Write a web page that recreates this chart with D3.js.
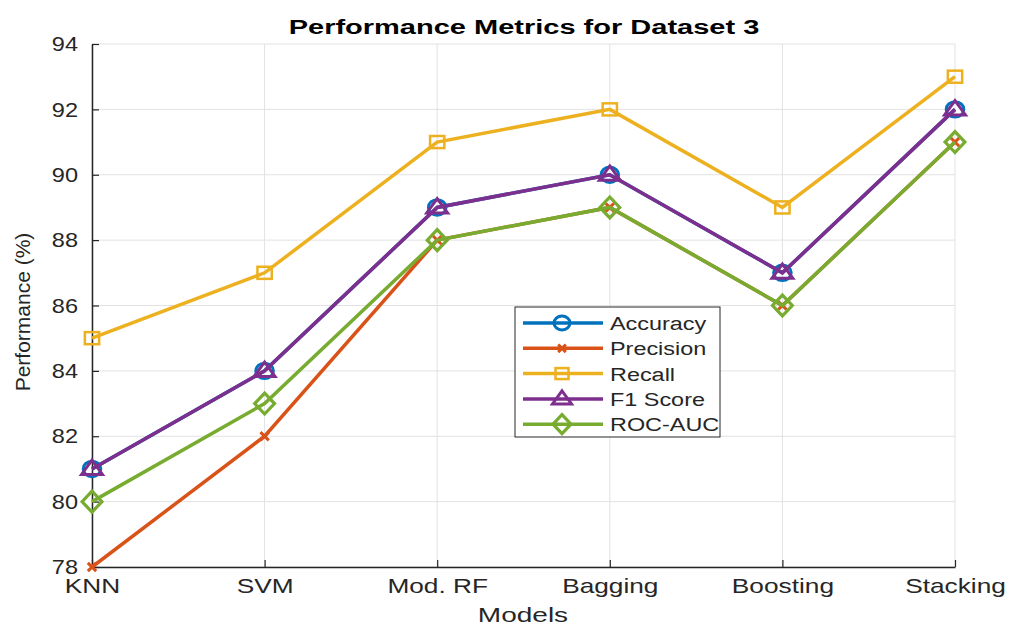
<!DOCTYPE html>
<html>
<head>
<meta charset="utf-8">
<script src="https://cdn.jsdelivr.net/npm/d3@7"></script>
<style>
body { margin: 0; background: #fff; }
text { font-family: "Liberation Sans", Arial, sans-serif; }
</style>
</head>
<body>
<div id="chart"></div>
<script>
var width = 1009, height = 627;

var models = ["KNN", "SVM", "Mod. RF", "Bagging", "Boosting", "Stacking"];
var accuracy  = [81, 84, 89, 90, 87, 92];
var precision = [78, 82, 88, 89, 86, 91];
var recall    = [85, 87, 91, 92, 89, 93];
var f1score   = [81, 84, 89, 90, 87, 92];
var rocauc    = [80, 83, 88, 89, 86, 91];
var yTicks = [78, 80, 82, 84, 86, 88, 90, 92, 94];

var series = [
  {name: "Accuracy",  values: accuracy,  color: "#0072BD", marker: "circle"},
  {name: "Precision", values: precision, color: "#D95319", marker: "cross"},
  {name: "Recall",    values: recall,    color: "#EDB120", marker: "square"},
  {name: "F1 Score",  values: f1score,   color: "#7E2F8E", marker: "triangle"},
  {name: "ROC-AUC",   values: rocauc,    color: "#77AC30", marker: "diamond"}
];

var margin = {left: 92, right: 54, top: 44, bottom: 60};

var svg = d3.select("#chart").append("svg").attr("width", width).attr("height", height);

var x = d3.scalePoint().domain(models).range([margin.left, width - margin.right]);
var y = d3.scaleLinear().domain([78, 94]).range([height - margin.bottom, margin.top]);

// the reference picture is stretched sideways, so widen text to match
function stretch(sel, f) {
  sel.each(function() {
    var w = this.getComputedTextLength();
    d3.select(this).attr("textLength", w * f).attr("lengthAdjust", "spacingAndGlyphs");
  });
}

// grid
var grid = svg.append("g").attr("class", "grid");
grid.selectAll("line.h").data(yTicks).enter().append("line")
  .attr("x1", margin.left).attr("x2", width - margin.right)
  .attr("y1", function(d) { return y(d); }).attr("y2", function(d) { return y(d); })
  .style("stroke", "#e2e2e2").style("stroke-width", 1);
grid.selectAll("line.v").data(models).enter().append("line")
  .attr("x1", function(d) { return x(d); }).attr("x2", function(d) { return x(d); })
  .attr("y1", margin.top).attr("y2", height - margin.bottom)
  .style("stroke", "#e2e2e2").style("stroke-width", 1);

// axes
var yAxis = svg.append("g").attr("transform", "translate(" + margin.left + ",0)")
  .call(d3.axisLeft(y).tickValues(yTicks).tickSizeInner(-7).tickSizeOuter(0).tickPadding(14));
var xAxis = svg.append("g").attr("transform", "translate(0," + (height - margin.bottom) + ")")
  .call(d3.axisBottom(x).tickSizeInner(-7).tickSizeOuter(0).tickPadding(11));
[yAxis, xAxis].forEach(function(a) {
  a.select(".domain").style("stroke", "#262626").style("stroke-width", 1.5);
  a.selectAll(".tick line").style("stroke", "#262626").style("stroke-width", 1.2);
  a.selectAll(".tick text").style("font-size", "21px").style("fill", "#262626")
    .style("font-family", "'Liberation Sans', Arial, sans-serif");
});
stretch(yAxis.selectAll(".tick text"), 1.12);
stretch(xAxis.selectAll(".tick text"), 1.25);

// title and labels
var title = svg.append("text").attr("x", 524).attr("y", 34)
  .attr("text-anchor", "middle").style("font-size", "20px").style("font-weight", "bold")
  .style("fill", "#000").text("Performance Metrics for Dataset 3");
stretch(title, 1.45);
var xl = svg.append("text").attr("x", 523).attr("y", 622)
  .attr("text-anchor", "middle").style("font-size", "20px").style("fill", "#262626").text("Models");
stretch(xl, 1.4);
svg.append("text").attr("transform", "translate(30,312) rotate(-90)")
  .attr("text-anchor", "middle").style("font-size", "21px").style("fill", "#262626").text("Performance (%)");

function drawMarker(sel, type, color, s) {
  if (type === "circle") {
    sel.append("ellipse").attr("rx", s * 0.8).attr("ry", s * 0.7).style("fill", "none").style("stroke", color).style("stroke-width", 3);
  } else if (type === "cross") {
    var k = s * 0.38;
    sel.append("path").attr("d", "M" + (-k) + "," + (-k) + "L" + k + "," + k + "M" + (-k) + "," + k + "L" + k + "," + (-k))
      .style("stroke", color).style("stroke-width", 3).style("fill", "none");
  } else if (type === "square") {
    sel.append("rect").attr("x", -s * 0.65).attr("y", -s * 0.55).attr("width", s * 1.3).attr("height", s * 1.1)
      .style("fill", "none").style("stroke", color).style("stroke-width", 2.5);
  } else if (type === "triangle") {
    var t = s * 0.95;
    sel.append("path").attr("d", "M0," + (-s * 0.8) + "L" + t + "," + (s * 0.5) + "L" + (-t) + "," + (s * 0.5) + "Z")
      .style("fill", "none").style("stroke", color).style("stroke-width", 3);
  } else if (type === "diamond") {
    sel.append("path").attr("d", "M0," + (-s * 0.95) + "L" + (s * 0.9) + ",0L0," + (s * 0.95) + "L" + (-s * 0.9) + ",0Z")
      .style("fill", "none").style("stroke", color).style("stroke-width", 3.2);
  }
}

var line = d3.line().x(function(d, i) { return x(models[i]); }).y(function(d) { return y(d); });

series.forEach(function(s) {
  var g = svg.append("g").attr("class", "series");
  g.append("path").datum(s.values).attr("d", line)
    .style("fill", "none").style("stroke", s.color).style("stroke-width", 3.5);
  s.values.forEach(function(v, i) {
    var m = g.append("g").attr("transform", "translate(" + x(models[i]) + "," + y(v) + ")");
    drawMarker(m, s.marker, s.color, 11);
  });
});

// legend
var lg = svg.append("g").attr("transform", "translate(515,307)");
lg.append("rect").attr("width", 205).attr("height", 130)
  .style("fill", "#fff").style("stroke", "#262626").style("stroke-width", 1);
series.forEach(function(s, i) {
  var yy = 16 + i * 25.3;
  var row = lg.append("g").attr("transform", "translate(0," + yy + ")");
  row.append("line").attr("x1", 8).attr("x2", 88).attr("y1", 0).attr("y2", 0)
    .style("stroke", s.color).style("stroke-width", 3.5);
  var m = row.append("g").attr("transform", "translate(47,0)");
  drawMarker(m, s.marker, s.color, 10);
  var t = row.append("text").attr("x", 95).attr("y", 7).style("font-size", "18px").style("fill", "#262626").text(s.name);
  stretch(t, 1.3);
});
</script>
</body>
</html>
